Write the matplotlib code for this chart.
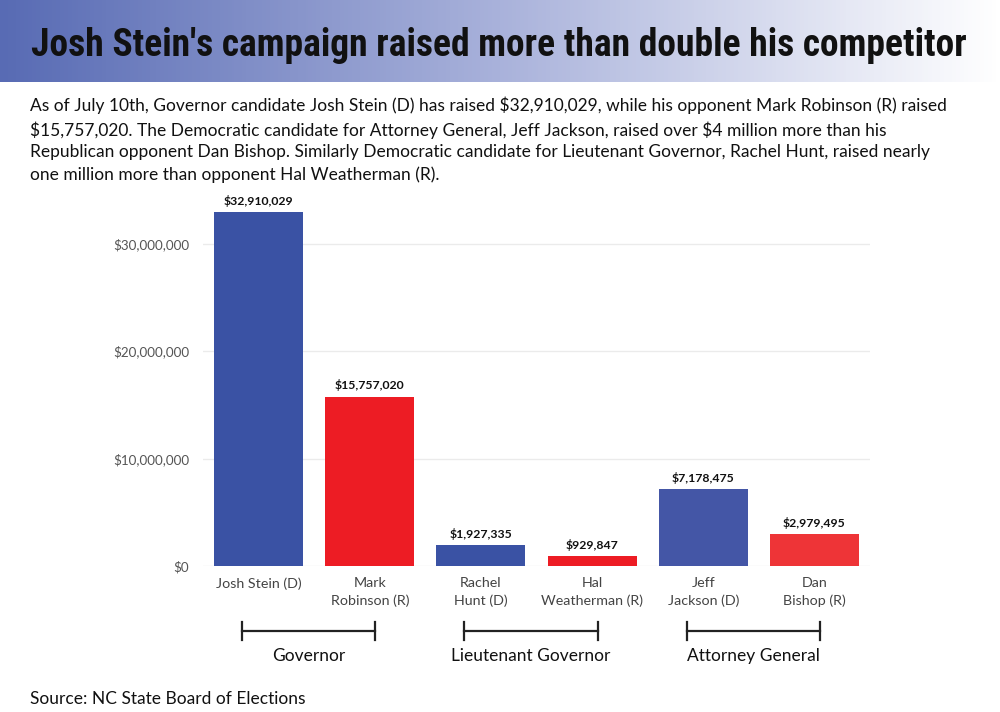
import numpy as np
import matplotlib.pyplot as plt
import matplotlib.transforms as mtransforms
from matplotlib.colors import LinearSegmentedColormap

# Data
candidates = ["Josh Stein (D)", "Mark\nRobinson (R)", "Rachel\nHunt (D)",
              "Hal\nWeatherman (R)", "Jeff\nJackson (D)", "Dan\nBishop (R)"]
raised = [32910029, 15757020, 1927335, 929847, 7178475, 2979495]
bar_colors = ["#3a52a4", "#ed1c24", "#3a52a4", "#ed1c24", "#4456a6", "#ee3437"]
groups = ["Governor", "Lieutenant Governor", "Attorney General"]
group_members = [(0, 1), (2, 3), (4, 5)]
yticks = [0, 10000000, 20000000, 30000000]

title = "Josh Stein's campaign raised more than double his competitor"
subtitle = ("As of July 10th, Governor candidate Josh Stein (D) has raised \\$32,910,029, while his opponent Mark Robinson (R) raised\n"
            "\\$15,757,020. The Democratic candidate for Attorney General, Jeff Jackson, raised over \\$4 million more than his\n"
            "Republican opponent Dan Bishop. Similarly Democratic candidate for Lieutenant Governor, Rachel Hunt, raised nearly\n"
            "one million more than opponent Hal Weatherman (R).")
source = "Source: NC State Board of Elections"

plt.rcParams['font.family'] = ['Lato', 'DejaVu Sans']

fig = plt.figure(figsize=(10, 7.12), dpi=100)

# Title banner with gradient
banner = fig.add_axes([0, 1 - 82 / 712, 1, 82 / 712])
cmap = LinearSegmentedColormap.from_list("band", ["#586bb4", "#a9b2db", "#ffffff"])
banner.imshow(np.linspace(0, 1, 500).reshape(1, -1), aspect="auto", cmap=cmap,
              extent=[0, 1, 0, 1])
banner.set_axis_off()
fig.text(0.499, 1 - 46 / 712, title, ha="center", va="center", fontsize=27,
         fontweight="bold", fontstretch="condensed",
         family=["Roboto Condensed", "DejaVu Sans"], color="#111111")

fig.text(0.03, 1 - 97 / 712, subtitle, ha="left", va="top", fontsize=12.55,
         color="#111111", linespacing=1.45)

# Bar chart
ax = fig.add_axes([0.203, 146 / 712, 0.667, 376 / 712])
x = np.arange(len(candidates))
ax.bar(x, raised, width=0.8, color=bar_colors, zorder=3)
for xi, v in zip(x, raised):
    ax.text(xi, v + 500000, f"\\${v:,}", ha="center", va="bottom", fontsize=8.8,
            fontweight="bold", color="#111111")

ax.set_xlim(-0.5, len(candidates) - 0.5)
ax.set_ylim(0, 35000000)
ax.set_yticks(yticks)
ax.set_yticklabels([f"\\${t:,}" for t in yticks], fontsize=9.6, color="#555555")
ax.set_xticks(x)
ax.set_xticklabels(candidates, fontsize=10.3, color="#444444", linespacing=1.5,
                   va="top")
ax.tick_params(axis="y", length=0, pad=10)
ax.tick_params(axis="x", length=0, pad=8)
ax.grid(axis="y", color="#ebebeb", linewidth=1, zorder=0)
for s in ax.spines.values():
    s.set_visible(False)

# Group brackets
trans = mtransforms.blended_transform_factory(ax.transData, fig.transFigure)
yb = 1 - 631 / 712
cap = 9 / 712
for name, (i0, i1) in zip(groups, group_members):
    mid = (i0 + i1) / 2 - 0.05
    x0, x1 = mid - 0.6, mid + 0.6
    ax.plot([x0, x1], [yb, yb], transform=trans, color="#222222", lw=1.6, clip_on=False)
    ax.plot([x0, x0], [yb - cap, yb + cap], transform=trans, color="#222222", lw=1.6, clip_on=False)
    ax.plot([x1, x1], [yb - cap, yb + cap], transform=trans, color="#222222", lw=1.6, clip_on=False)
    ax.text(mid, 1 - 656 / 712, name, transform=trans, ha="center",
            va="center", fontsize=12.5, color="#111111")

fig.text(0.03, 1 - 699 / 712, source, ha="left", va="center", fontsize=12.5,
         color="#111111")

fig.savefig("out.png", dpi=100)
